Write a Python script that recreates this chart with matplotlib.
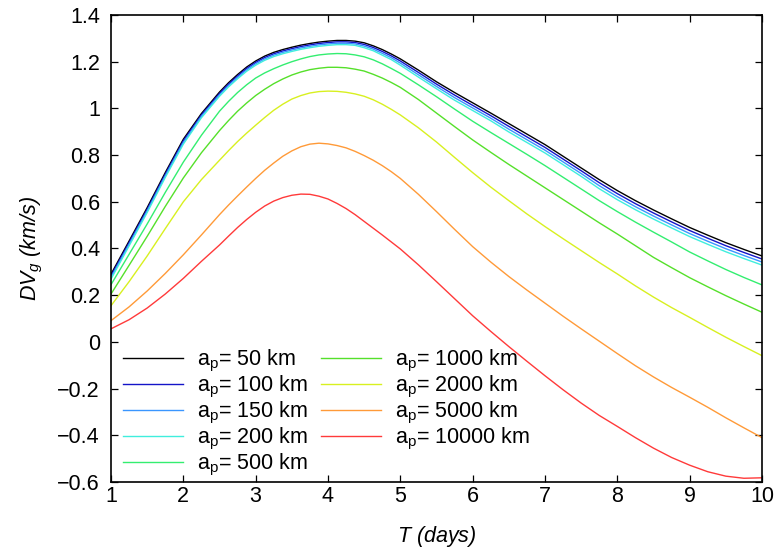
import matplotlib
matplotlib.use("Agg")
import matplotlib.pyplot as plt
from matplotlib.ticker import FuncFormatter, MultipleLocator

plt.rcParams['font.family'] = ['Liberation Sans', 'DejaVu Sans']
plt.rcParams['mathtext.fontset'] = 'custom'
plt.rcParams['mathtext.rm'] = 'Liberation Sans'
plt.rcParams['mathtext.it'] = 'Liberation Sans:italic'

T = [1.00, 1.25, 1.50, 1.75, 2.00, 2.25,
     2.500, 2.625, 2.750, 2.875, 3.000, 3.125, 3.250, 3.375, 3.500, 3.625, 3.750,
     3.875, 4.000, 4.125, 4.250, 4.375, 4.500, 4.625, 4.750, 4.875, 5.000,
     5.25, 5.50, 5.75, 6.00, 6.25, 6.50, 6.75, 7.00, 7.25, 7.50, 7.75, 8.00,
     8.25, 8.50, 8.75, 9.00, 9.25, 9.50, 9.75, 10.0]

dv_50 = [0.290, 0.432, 0.575, 0.725, 0.868, 0.978,
         1.070, 1.110, 1.145, 1.177, 1.203, 1.224, 1.240, 1.252, 1.262, 1.271, 1.278,
         1.284, 1.288, 1.291, 1.291, 1.288, 1.281, 1.268, 1.252, 1.233, 1.212,
         1.164, 1.114, 1.068, 1.024, 0.980, 0.935, 0.890, 0.845, 0.795, 0.745, 0.695, 0.648,
         0.605, 0.565, 0.527, 0.490, 0.457, 0.425, 0.396, 0.368]
dv_100 = [0.283, 0.425, 0.568, 0.718, 0.861, 0.972,
          1.064, 1.104, 1.139, 1.171, 1.197, 1.218, 1.234, 1.246, 1.256, 1.265, 1.272,
          1.278, 1.282, 1.285, 1.285, 1.282, 1.274, 1.261, 1.244, 1.225, 1.203,
          1.154, 1.104, 1.057, 1.013, 0.969, 0.923, 0.878, 0.833, 0.783, 0.733, 0.682, 0.635,
          0.592, 0.552, 0.514, 0.477, 0.444, 0.412, 0.383, 0.355]
dv_150 = [0.276, 0.418, 0.561, 0.711, 0.854, 0.966,
          1.058, 1.098, 1.133, 1.165, 1.191, 1.212, 1.228, 1.240, 1.250, 1.259, 1.266,
          1.272, 1.276, 1.279, 1.279, 1.276, 1.267, 1.254, 1.236, 1.217, 1.194,
          1.144, 1.094, 1.046, 1.002, 0.958, 0.911, 0.866, 0.821, 0.771, 0.721, 0.669, 0.622,
          0.579, 0.539, 0.501, 0.464, 0.431, 0.399, 0.370, 0.342]
dv_200 = [0.269, 0.411, 0.554, 0.704, 0.847, 0.960,
          1.052, 1.092, 1.127, 1.159, 1.185, 1.206, 1.222, 1.234, 1.244, 1.253, 1.260,
          1.266, 1.270, 1.273, 1.273, 1.270, 1.260, 1.247, 1.228, 1.209, 1.185,
          1.134, 1.084, 1.035, 0.991, 0.947, 0.899, 0.854, 0.809, 0.759, 0.709, 0.656, 0.609,
          0.566, 0.526, 0.488, 0.451, 0.418, 0.386, 0.357, 0.329]
dv_500 = [0.245, 0.375, 0.505, 0.640, 0.770, 0.885,
          0.988, 1.030, 1.068, 1.101, 1.130, 1.152, 1.170, 1.186, 1.200, 1.212, 1.222,
          1.229, 1.233, 1.235, 1.234, 1.229, 1.221, 1.208, 1.191, 1.171, 1.150,
          1.101, 1.050, 0.997, 0.945, 0.897, 0.850, 0.803, 0.755, 0.705, 0.655, 0.605, 0.558,
          0.513, 0.470, 0.428, 0.385, 0.347, 0.310, 0.276, 0.244]
dv_1000 = [0.205, 0.328, 0.452, 0.580, 0.702, 0.810,
           0.905, 0.948, 0.988, 1.023, 1.055, 1.082, 1.106, 1.126, 1.143, 1.156, 1.166,
           1.172, 1.176, 1.176, 1.174, 1.168, 1.160, 1.146, 1.130, 1.111, 1.090,
           1.038, 0.980, 0.922, 0.865, 0.812, 0.760, 0.710, 0.660, 0.610, 0.560, 0.510, 0.462,
           0.412, 0.362, 0.318, 0.275, 0.236, 0.198, 0.162, 0.127]
dv_2000 = [0.155, 0.258, 0.368, 0.485, 0.600, 0.695,
           0.778, 0.819, 0.858, 0.894, 0.928, 0.961, 0.992, 1.018, 1.040, 1.055, 1.066,
           1.072, 1.074, 1.073, 1.069, 1.062, 1.052, 1.037, 1.018, 0.996, 0.972,
           0.917, 0.856, 0.790, 0.725, 0.663, 0.605, 0.548, 0.494, 0.442, 0.391, 0.340, 0.291,
           0.240, 0.192, 0.147, 0.105, 0.062, 0.020, -0.020, -0.059]
dv_5000 = [0.091, 0.150, 0.218, 0.293, 0.373, 0.458,
           0.545, 0.586, 0.625, 0.663, 0.700, 0.735, 0.766, 0.795, 0.818, 0.836, 0.847,
           0.851, 0.848, 0.841, 0.831, 0.816, 0.798, 0.778, 0.755, 0.729, 0.700,
           0.632, 0.558, 0.482, 0.408, 0.342, 0.280, 0.222, 0.166, 0.110, 0.056, 0.003, -0.050,
           -0.102, -0.150, -0.195, -0.237, -0.280, -0.325, -0.368, -0.410]
dv_10000 = [0.056, 0.095, 0.145, 0.205, 0.272, 0.345,
            0.415, 0.453, 0.490, 0.524, 0.555, 0.582, 0.603, 0.618, 0.628, 0.633, 0.632,
            0.624, 0.612, 0.593, 0.571, 0.545, 0.516, 0.487, 0.458, 0.428, 0.398,
            0.330, 0.258, 0.185, 0.112, 0.045, -0.020, -0.083, -0.145, -0.205, -0.262, -0.315, -0.362,
            -0.410, -0.455, -0.495, -0.528, -0.556, -0.575, -0.584, -0.582]

labels = ['50', '100', '150', '200', '500', '1000', '2000', '5000', '10000']
series = [dv_50, dv_100, dv_150, dv_200, dv_500, dv_1000, dv_2000, dv_5000, dv_10000]
colors = ['#000000', '#1414c8', '#3a96ff', '#40eedd', '#33ee70',
          '#55e02a', '#d8f020', '#ff9a38', '#ff3a3a']

FS = 15.5

fig = plt.figure(figsize=(7.79, 5.52), dpi=100)
ax = fig.add_axes([111/779, 1 - 482/552, (762 - 111)/779, (482 - 15)/552])

for ys, lab, c in zip(series, labels, colors):
    ax.plot(T, ys, color=c, lw=1.0, label=r'a$_\mathrm{p}$= ' + lab + ' km')

ax.set_xlim(1, 10)
ax.set_ylim(-0.6, 1.4)
ax.xaxis.set_major_locator(MultipleLocator(1))
ax.yaxis.set_major_locator(MultipleLocator(0.2))

def fmt(v, pos):
    s = '%g' % round(v, 6)
    if s == '-0':
        s = '0'
    return s.replace('-', '\u2212')

ax.xaxis.set_major_formatter(FuncFormatter(fmt))
ax.yaxis.set_major_formatter(FuncFormatter(fmt))
ax.tick_params(direction='in', length=5, width=0.9, top=True, right=True,
               labelsize=FS, colors='black')
ax.tick_params(axis='x', pad=3)
ax.tick_params(axis='y', pad=8)
for sp in ax.spines.values():
    sp.set_linewidth(1.2)

ax.set_xlabel(r'$T$ (days)', fontsize=FS, style='italic', labelpad=12)
ax.set_ylabel(r'$DV_g$ (km/s)', fontsize=FS, style='italic', labelpad=9)

leg = ax.legend(loc='upper left', bbox_to_anchor=(0.018, 0.287), ncol=2, frameon=False,
                fontsize=FS, handlelength=2.8, handletextpad=0.65, columnspacing=0.6,
                labelspacing=0.0, borderaxespad=0.0, borderpad=0.0)

fig.savefig('out.png', dpi=100)
